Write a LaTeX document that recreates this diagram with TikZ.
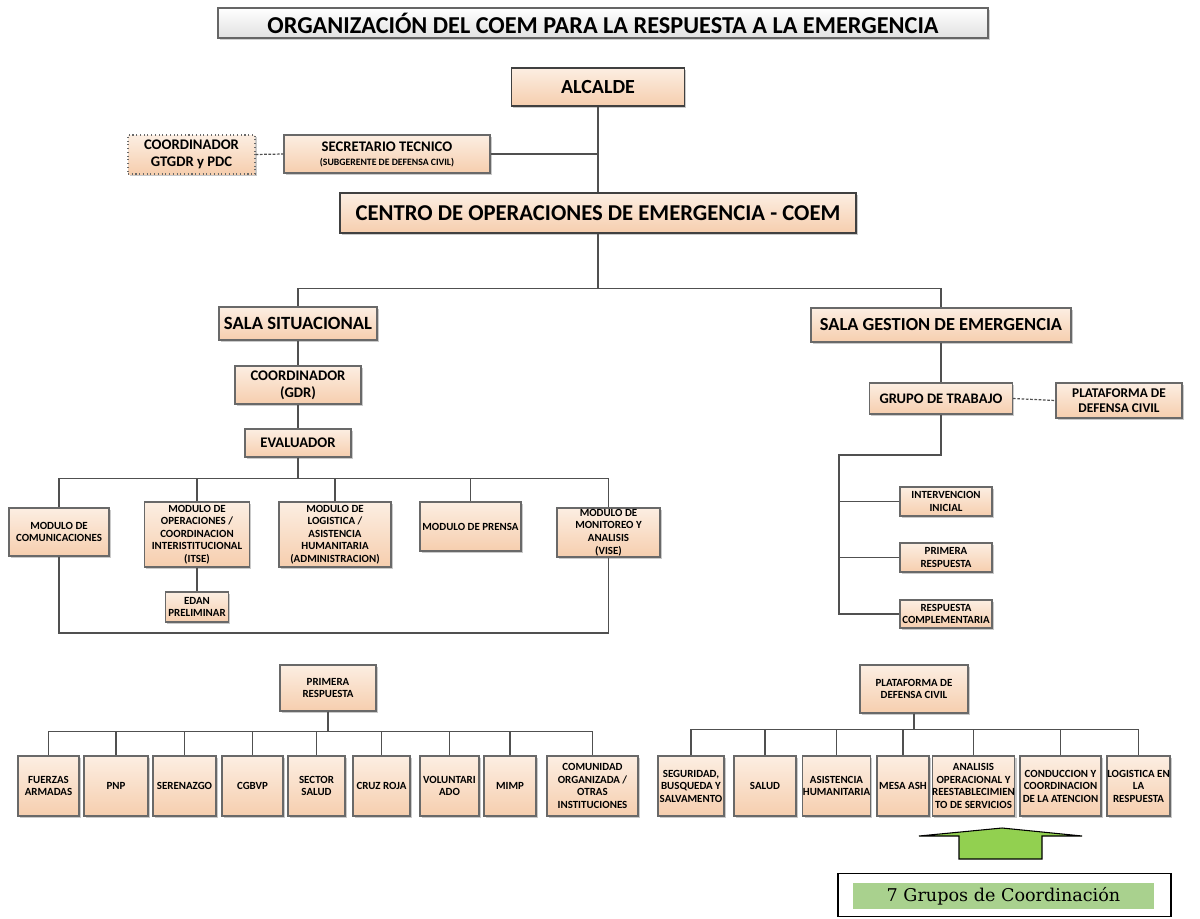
\documentclass[tikz,border=0pt]{standalone}
\usepackage{fontspec}
\setmainfont{Carlito}
\newfontfamily\capfont{DejaVu Serif}
\usetikzlibrary{shadows}

\definecolor{peachtop}{RGB}{252,238,226}
\definecolor{peachbot}{RGB}{246,206,174}
\definecolor{edge}{RGB}{105,105,105}
\definecolor{wire}{RGB}{80,80,80}
\definecolor{titletop}{RGB}{255,255,255}
\definecolor{titlebot}{RGB}{225,225,225}
\definecolor{arrowgreen}{RGB}{146,208,80}
\definecolor{bandgreen}{RGB}{169,209,142}

\tikzset{
  wh/.style 2 args={minimum width=#1*0.75pt, minimum height=#2*0.75pt},
  fs/.style 2 args={font=\bfseries\fontsize{#1}{#2}\selectfont},
  box/.style={draw=edge, line width=0.8pt, top color=peachtop, bottom color=peachbot,
    inner sep=0pt, align=center, fs={8.2}{9.4},
    drop shadow={shadow xshift=1.3pt, shadow yshift=-1.3pt, fill=black!35, opacity=0.6}},
  headbox/.style={box, draw=black!75, line width=1.4pt},
  dotbox/.style={box, draw=edge, dotted, line width=0.9pt, drop shadow={opacity=0}},
  titlebox/.style={draw=black!60, line width=0.8pt, top color=titletop, bottom color=titlebot,
    inner sep=0pt, fs={18.2}{20},
    drop shadow={shadow xshift=1.5pt, shadow yshift=-1.5pt, fill=black!30, opacity=0.6}},
  wire/.style={draw=wire, line width=1.1pt},
  thinwire/.style={draw=wire, line width=0.8pt},
  dashwire/.style={draw=wire, line width=0.9pt, dashed, dash pattern=on 2pt off 1.2pt},
}

\begin{document}
\begin{tikzpicture}[x=0.75pt, y=-0.75pt]
\useasboundingbox (0,0) rectangle (1200,918);

% ---------- header ----------
\node[titlebox, wh={770}{30}] (title) at (603,23)
  {ORGANIZACIÓN DEL COEM PARA LA RESPUESTA A LA EMERGENCIA};

\node[headbox, wh={173}{38}, fs={15}{17}] (alc) at (598,87) {ALCALDE};
\node[box, wh={206}{38}] (sec) at (387,154)
  {{\fontsize{11}{12}\selectfont SECRETARIO TECNICO}\\[1pt]{\fontsize{7.3}{8}\selectfont (SUBGERENTE DE DEFENSA CIVIL)}};
\node[dotbox, wh={127}{39}, fs={11}{12.5}] (gtg) at (191.5,154.5) {COORDINADOR\\GTGDR y PDC};
\node[headbox, wh={516}{40}, fs={17}{19}] (coem) at (598,213)
  {CENTRO DE OPERACIONES DE EMERGENCIA - COEM};

\draw[thinwire] (alc.south) -- (coem.north);
\draw[thinwire] (sec.east) -- (sec.east -| alc.south);
\draw[dashwire] (gtg.east) -- (sec.west);

% ---------- the two rooms ----------
\node[box, wh={158}{33}, fs={14}{16}] (ss) at (298,323.5) {SALA SITUACIONAL};
\node[box, wh={260}{34}, fs={13.8}{16}] (sg) at (941,325) {SALA GESTION DE EMERGENCIA};
\draw[thinwire] (coem.south) -- ++(0,55) -| (ss.north);
\draw[thinwire] (coem.south) -- ++(0,55) -| (sg.north);

% ---------- situation room ----------
\node[box, wh={126}{38}, fs={11}{12.5}] (cgdr) at (298,385) {COORDINADOR\\(GDR)};
\node[box, wh={106}{28}, fs={11}{12.5}] (ev) at (298,443) {EVALUADOR};
\draw[wire] (ss.south) -- (cgdr.north);
\draw[wire] (cgdr.south) -- (ev.north);

\node[box, wh={100}{48}] (mcom) at (59,532) {MODULO DE\\COMUNICACIONES};
\node[box, wh={105}{65}] (mop) at (197,534.5) {MODULO DE\\OPERACIONES /\\COORDINACION\\INTERISTITUCIONAL\\(ITSE)};
\node[box, wh={112}{65}] (mlog) at (335,534.5) {MODULO DE\\LOGISTICA /\\ASISTENCIA\\HUMANITARIA\\(ADMINISTRACION)};
\node[box, wh={101}{49}] (mpre) at (470.5,526.5) {MODULO DE PRENSA};
\node[box, wh={103}{49}] (mmon) at (608.5,532.5) {MODULO DE\\MONITOREO Y\\ANALISIS\\(VISE)};
\node[box, wh={63}{30}] (edan) at (197,607) {EDAN\\PRELIMINAR};

\foreach \m in {mcom,mop,mlog,mpre,mmon}
  \draw[wire] (ev.south) -- ++(0,21) -| (\m.north);
\draw[wire] (mop.south) -- (edan.north);
\coordinate (loopbase) at (0,633);
\draw[wire] (mcom.south) -- (mcom.south |- loopbase) -| (mmon.south);

% ---------- emergency management room ----------
\node[box, wh={143}{31}, fs={10.9}{12}] (gt) at (941,398.5) {GRUPO DE TRABAJO};
\node[box, wh={126}{35}, fs={10}{11.5}] (pdc) at (1119,400.5) {PLATAFORMA DE\\DEFENSA CIVIL};
\draw[wire] (sg.south) -- (gt.north);
\draw[dashwire] (gt.east) -- (pdc.west);

\node[box, wh={92}{29}] (ini) at (946,501.5) {INTERVENCION\\INICIAL};
\node[box, wh={92}{29}] (pri) at (946,557.5) {PRIMERA\\RESPUESTA};
\node[box, wh={92}{28}] (com) at (946,614) {RESPUESTA\\COMPLEMENTARIA};
\coordinate (trunktop) at (839,455);
\coordinate (trunkbot) at (839,615);
\draw[wire] (gt.south) |- (trunktop) -- (trunkbot);
\foreach \m in {ini,pri,com}
  \draw[wire] (\m.west) -- (\m.west -| trunktop);

% ---------- first response ----------
\node[box, wh={96}{46}] (pr) at (328,688) {PRIMERA\\RESPUESTA};
\node[box, wh={61}{60}] (fa) at (48.5,786) {FUERZAS\\ARMADAS};
\node[box, wh={64}{60}] (pnp) at (116,786) {PNP};
\node[box, wh={63}{60}] (ser) at (184.5,786) {SERENAZGO};
\node[box, wh={61}{60}] (cgb) at (252.5,786) {CGBVP};
\node[box, wh={57}{60}] (sal) at (316.5,786) {SECTOR\\SALUD};
\node[box, wh={57}{60}] (cru) at (381.5,786) {CRUZ ROJA};
\node[box, wh={59}{60}] (vol) at (449.5,786) {VOLUNTARI\\ADO};
\node[box, wh={52}{60}] (mim) at (510,786) {MIMP};
\node[box, wh={91}{60}] (cmu) at (592.5,786) {COMUNIDAD\\ORGANIZADA /\\OTRAS\\INSTITUCIONES};
\foreach \m in {fa,pnp,ser,cgb,sal,cru,vol,mim,cmu}
  \draw[wire] (pr.south) -- ++(0,20) -| (\m.north);

% ---------- civil defence platform ----------
\node[box, wh={108}{48}] (pl) at (914,689) {PLATAFORMA DE\\DEFENSA CIVIL};
\node[box, wh={66}{60}] (seg) at (691,786) {SEGURIDAD,\\BUSQUEDA Y\\SALVAMENTO};
\node[box, wh={62}{60}] (slu) at (765,786) {SALUD};
\node[box, wh={67}{60}] (asi) at (836.5,786) {ASISTENCIA\\HUMANITARIA};
\node[box, wh={52}{60}] (mes) at (903,786) {MESA ASH};
\node[box, wh={81}{60}] (ana) at (973.5,786) {ANALISIS\\OPERACIONAL Y\\REESTABLECIMIEN\\TO DE SERVICIOS};
\node[box, wh={81}{60}] (con) at (1060.5,786) {CONDUCCION Y\\COORDINACION\\DE LA ATENCION};
\node[box, wh={63}{60}] (log) at (1138.5,786) {LOGISTICA EN\\LA\\RESPUESTA};
\foreach \m in {seg,slu,asi,mes,ana,con,log}
  \draw[wire] (pl.south) -- ++(0,16) -| (\m.north);

% ---------- coordination groups ----------
\draw[draw=black, line width=0.8pt, fill=arrowgreen]
  (919,836) -- (1002,828) -- (1082,836) -- (1042,836) -- (1042,859)
  -- (959,859) -- (959,836) -- cycle;
\node[draw=black, line width=0.9pt, wh={333}{43}, inner sep=0pt] (grpbox) at (1004.5,895) {};
\node[fill=bandgreen, wh={301}{26}, inner sep=0pt,
  font=\capfont\fontsize{13.2}{15}\selectfont] (grp) at (1003.5,896) {7 Grupos de Coordinación};
\end{tikzpicture}
\end{document}
